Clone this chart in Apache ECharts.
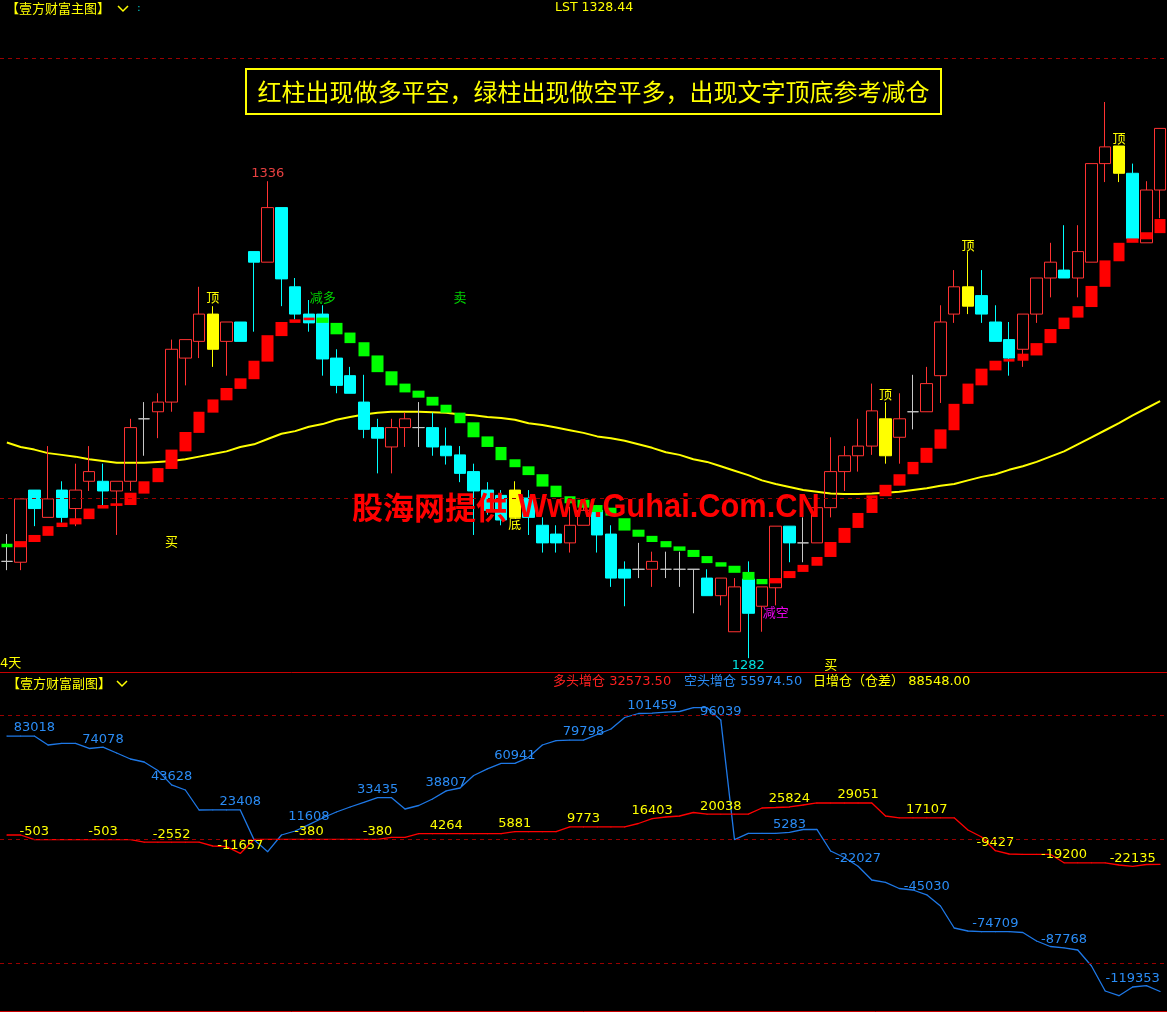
<!DOCTYPE html>
<html><head><meta charset="utf-8">
<script src="https://cdn.jsdelivr.net/npm/echarts@6/dist/echarts.min.js"></script>
<style>html,body{margin:0;padding:0;background:#000;}#c{width:1167px;height:1012px;}</style>
</head><body><div id="c"></div>
<script>
const categories = ['1','2','3','4','5','6','7','8','9','10','11','12','13','14','15','16','17','18','19','20',
'21','22','23','24','25','26','27','28','29','30','31','32','33','34','35','36','37','38','39','40',
'41','42','43','44','45','46','47','48','49','50','51','52','53','54','55','56','57','58','59','60',
'61','62','63','64','65','66','67','68','69','70','71','72','73','74','75','76','77','78','79','80',
'81','82','83','84','85'];

// [open, close, low, high]
const candles = [
[1292.8,1292.8,1291.8,1295.9],[1292.7,1299.9,1291.8,1299.9],[1300.9,1298.8,1296.8,1300.9],[1297.8,1299.9,1297.8,1305.9],
[1300.9,1297.8,1297.2,1301.9],[1298.8,1300.9,1296.8,1303.9],[1301.9,1303.0,1300.8,1305.9],[1301.9,1300.8,1299.2,1303.9],
[1300.8,1301.9,1295.8,1301.9],[1301.9,1308.0,1300.8,1309.0],[1309.0,1309.0,1304.8,1310.9],[1309.8,1310.9,1306.8,1311.9],
[1310.9,1316.9,1309.8,1318.0],[1315.9,1318.0,1312.8,1318.0],[1317.8,1320.9,1315.9,1324.0],[1320.9,1316.9,1314.9,1321.8],
[1317.8,1320.0,1313.9,1320.0],[1320.0,1317.8,1317.8,1320.0],[1328.0,1326.8,1318.9,1328.0],[1326.8,1333.0,1326.8,1336.0],
[1333.0,1324.9,1321.8,1333.0],[1324.0,1320.9,1320.3,1325.0],[1320.9,1319.9,1318.9,1322.5],[1320.9,1315.8,1313.9,1321.9],
[1315.9,1312.8,1311.9,1316.9],[1313.9,1311.9,1311.9,1314.9],[1310.9,1307.8,1306.8,1314.0],[1308.0,1306.8,1302.8,1309.0],
[1305.8,1308.0,1302.8,1309.0],[1308.0,1309.0,1305.8,1309.7],[1308.0,1308.0,1305.8,1310.9],[1308.0,1305.8,1304.8,1309.7],
[1305.9,1304.8,1303.8,1308.0],[1304.9,1302.8,1301.8,1305.9],[1303.0,1300.8,1295.8,1303.9],[1300.9,1298.6,1298.1,1301.8],
[1300.3,1297.5,1296.9,1300.9],[1297.8,1300.9,1297.8,1301.9],[1300.0,1297.8,1295.8,1300.9],[1296.9,1294.9,1293.8,1297.8],
[1295.9,1294.9,1293.8,1296.9],[1294.9,1296.9,1293.8,1299.0],[1296.9,1298.6,1296.9,1299.2],[1298.6,1295.8,1293.8,1299.2],
[1295.9,1290.9,1289.9,1296.9],[1291.9,1290.9,1287.7,1292.8],[1291.9,1291.9,1290.9,1294.9],[1291.9,1292.8,1289.9,1293.9],
[1291.9,1291.9,1290.9,1293.9],[1291.9,1291.9,1289.9,1293.9],[1291.9,1291.9,1286.9,1291.9],[1290.9,1288.9,1288.9,1291.9],
[1288.9,1290.9,1287.8,1290.9],[1284.8,1289.9,1284.8,1290.9],[1290.8,1286.9,1281.8,1292.8],[1287.7,1289.9,1284.8,1289.9],
[1289.8,1296.8,1287.8,1296.8],[1296.8,1294.9,1292.7,1296.8],[1294.9,1294.9,1292.7,1297.8],[1294.9,1298.9,1294.9,1298.9],
[1298.9,1303.0,1297.8,1306.9],[1303.0,1304.8,1300.8,1305.9],[1304.8,1305.9,1303.0,1309.0],[1305.9,1309.9,1304.9,1313.0],
[1309.0,1304.8,1303.9,1310.9],[1306.9,1309.0,1303.9,1311.9],[1309.8,1309.8,1307.8,1314.0],[1309.8,1313.0,1309.8,1314.9],
[1313.9,1320.0,1310.8,1321.9],[1320.9,1324.0,1319.9,1325.9],[1324.0,1321.8,1320.9,1328.0],[1323.0,1320.9,1319.9,1325.9],
[1320.0,1317.8,1317.8,1321.9],[1318.0,1315.9,1313.9,1320.0],[1316.9,1320.9,1314.9,1320.9],[1320.9,1325.0,1319.9,1325.0],
[1325.0,1326.8,1322.8,1329.0],[1325.9,1325.0,1325.0,1331.0],[1325.0,1328.0,1322.8,1331.0],[1326.8,1338.0,1326.8,1338.0],
[1338.0,1339.9,1335.9,1345.0],[1340.0,1336.9,1335.9,1340.0],[1336.9,1329.5,1329.5,1338.0],[1329.0,1335.0,1329.0,1336.0],
[1335.0,1342.0,1331.8,1342.0]
];
const yellowIdx = [15,37,64,70,81];
const whiteIdx = [0,10,30,46,48,49,50,58,66];

const stepTop = [1294.8,1295.1,1295.8,1296.8,1297.2,1297.7,1298.8,1299.2,1299.4,1300.6,1301.9,1303.4,1305.5,1307.5,1309.8,1311.2,1312.5,1313.6,1315.6,1318.5,
1320.0,1320.3,1320.5,1320.5,1319.9,1318.8,1317.7,1316.2,1314.4,1313.0,1312.2,1311.5,1310.6,1309.7,1308.6,1307.0,1305.8,1304.4,1303.6,1302.7,
1301.4,1300.2,1299.8,1299.2,1298.9,1297.7,1296.4,1295.7,1295.1,1294.5,1294.1,1293.4,1292.7,1292.3,1291.6,1290.8,1290.9,1291.7,1292.4,1293.3,
1295.0,1296.6,1298.3,1300.3,1301.5,1302.7,1304.1,1305.7,1307.8,1310.7,1313.0,1314.7,1315.6,1315.8,1316.4,1317.6,1319.2,1320.5,1321.8,1324.1,
1327.0,1329.0,1329.5,1330.2,1331.7];
const stepBottom = [1294.4,1294.4,1295.0,1295.7,1296.7,1297.0,1297.6,1298.8,1299.1,1299.2,1300.5,1301.8,1303.3,1305.3,1307.4,1309.7,1311.1,1312.4,1313.5,1315.5,
1318.4,1319.9,1320.2,1319.9,1318.6,1317.6,1316.1,1314.3,1312.8,1312.0,1311.4,1310.5,1309.7,1308.5,1306.9,1305.8,1304.3,1303.5,1302.6,1301.3,
1300.1,1299.4,1298.9,1298.4,1298.0,1296.3,1295.6,1295.0,1294.4,1294.0,1293.3,1292.6,1292.2,1291.5,1290.7,1290.2,1290.3,1290.9,1291.6,1292.3,
1293.3,1294.9,1296.6,1298.3,1300.2,1301.4,1302.7,1304.0,1305.6,1307.7,1310.7,1312.8,1314.5,1315.5,1315.6,1316.2,1317.6,1319.2,1320.5,1321.7,
1324.0,1326.9,1329.0,1329.4,1330.1];
const stepDir = [-1,1,1,1,1,1,1,1,1,1,1,1,1,1,1,1,1,1,1,1,1,1,1,
-1,-1,-1,-1,-1,-1,-1,-1,-1,-1,-1,-1,-1,-1,-1,-1,-1,-1,-1,-1,-1,-1,-1,-1,-1,-1,-1,-1,-1,-1,-1,-1,-1,
1,1,1,1,1,1,1,1,1,1,1,1,1,1,1,1,1,1,1,1,1,1,1,1,1,1,1,1,1];

const ma = [1306.3,1305.8,1305.5,1305.1,1304.9,1304.7,1304.4,1304.2,1304.0,1304.0,
1304.0,1304.1,1304.2,1304.4,1304.7,1305.0,1305.3,1305.8,1306.1,1306.7,
1307.3,1307.6,1308.1,1308.4,1308.9,1309.2,1309.5,1309.7,1309.8,1309.8,
1309.8,1309.75,1309.7,1309.5,1309.4,1309.2,1309.1,1308.9,1308.5,1308.3,
1308.0,1307.7,1307.4,1307.0,1306.8,1306.5,1306.1,1305.7,1305.2,1304.9,
1304.4,1304.1,1303.6,1303.1,1302.6,1302.0,1301.6,1301.25,1300.9,1300.7,
1300.5,1300.45,1300.45,1300.5,1300.6,1300.7,1300.9,1301.1,1301.4,1301.6,
1302.0,1302.4,1302.7,1303.2,1303.6,1304.1,1304.7,1305.3,1306.1,1306.9,
1307.7,1308.5,1309.4,1310.2,1311.0];

const kongTou = [83000,83000,83018,75806,77177,77177,73000,74078,69355,64516,
62097,55242,43628,39516,23387,23408,23408,23408,-500,-10242,
3226,6452,11608,16935,21774,25806,29597,33435,33435,24194,
27016,32258,38807,41129,51210,56613,60941,60941,65887,75806,
79274,79798,79798,84274,88710,97984,101210,101459,102258,102823,
105887,105887,96039,-500,4597,4597,4597,5283,7661,7823,
-9677,-14919,-22027,-33065,-34919,-39919,-41129,-45030,-54032,-71774,
-74193,-74709,-74709,-74709,-75403,-82258,-86694,-87768,-89516,-102419,
-122581,-126371,-119353,-118306,-122984];
const duoTou = [3226,3226,-503,-503,-503,-503,-503,-503,-503,-503,
-2552,-2552,-2552,-2552,-2552,-5645,-6210,-11657,-380,-380,
-380,-380,-380,-380,-380,-380,-380,-380,1371,1371,
4264,4264,4264,4264,4264,4264,4264,5881,5881,5881,
5881,9773,9773,9773,9773,9773,12500,16403,17742,18548,
21371,20038,20038,20038,20038,25000,25403,25824,27419,29051,
29051,29051,29051,29051,18548,17107,17107,17107,17107,17107,
7258,1613,-9427,-12097,-12339,-12339,-12339,-19200,-19200,-19200,
-19200,-20968,-22135,-20565,-20403];
const labelIdx = [2,7,12,17,22,27,32,37,42,47,52,57,62,67,72,77,82];

// [index, price, text, color]
const notes = [
[15,1322.6,'顶','#ffff00'],[64,1311.6,'顶','#ffff00'],[70,1328.6,'顶','#ffff00'],[81,1340.7,'顶','#ffff00'],
[19,1336.9,'1336','#e84040'],[23,1322.7,'减多','#00d400'],[33,1322.7,'卖','#00d400'],
[12,1294.9,'买','#ffff00'],[37,1297.0,'底','#ffff00'],[56,1286.9,'减空','#ee00ee'],
[54,1280.9,'1282','#00e0e0'],[60,1281.0,'买','#ffff00']
];

const Y='#ffff00', W='#c8c8c8', UP='#ff3232', DN='#00ffff';
const FONT_NUM = 'DejaVu Sans, Noto Sans CJK SC';
const FONT_CJK = 'Noto Sans CJK SC';

const candleData = candles.map((v,i)=>{
  if (yellowIdx.includes(i)) return {value:v, itemStyle:{color:Y,color0:Y,borderColor:Y,borderColor0:Y}};
  if (whiteIdx.includes(i)) return {value:v, itemStyle:{color:W,color0:W,borderColor:W,borderColor0:W}};
  return v;
});
const stepData = stepTop.map((t,i)=>{ const b = stepBottom[i]; return stepDir[i] > 0 ? [b,t,b,t] : [t,b,b,t]; });
const mkLabelled = (arr)=>arr.map((v,i)=> labelIdx.includes(i) ? {value:v, label:{show:true}} : v);

const dashed = {color:'#990000', type:[4,4], width:1};
const chart = echarts.init(document.getElementById('c'));
chart.setOption({
  backgroundColor:'#000',
  animation:false,
  grid:[{left:0,right:0,top:58,height:614},{left:0,right:0,top:673,height:338}],
  xAxis:[0,1].map(g=>({type:'category',gridIndex:g,data:categories,boundaryGap:true,
    axisLabel:{show:false},axisTick:{show:false},splitLine:{show:false},
    axisLine:{show:true,onZero:false,lineStyle:{color:'#c80000',width:1}}})),
  yAxis:[
    {type:'value',gridIndex:0,min:1280.2273,max:1350,show:false},
    {type:'value',gridIndex:1,min:-138709.68,max:133870.97,show:false}
  ],
  series:[
    {type:'line',name:'MA',xAxisIndex:0,yAxisIndex:0,data:ma,symbol:'none',z:1,
      lineStyle:{color:Y,width:2},itemStyle:{color:Y},
      markLine:{silent:true,symbol:['none','none'],label:{show:false},lineStyle:dashed,
        data:[{yAxis:1350},{yAxis:1300}]}},
    {type:'candlestick',name:'K',xAxisIndex:0,yAxisIndex:0,data:candleData,barWidth:12,z:2,
      itemStyle:{color:'rgba(0,0,0,0)',color0:DN,borderColor:UP,borderColor0:DN,borderWidth:1},
      markPoint:{symbol:'rect',symbolSize:1,silent:true,itemStyle:{color:'rgba(0,0,0,0)'},
        label:{show:true,position:'inside',formatter:'{b}',fontSize:13,fontFamily:FONT_NUM},
        data:notes.map(n=>({name:n[2],coord:[n[0],n[1]],label:{color:n[3]}}))}},
    {type:'candlestick',name:'step',xAxisIndex:0,yAxisIndex:0,data:stepData,barWidth:12,z:3,
      itemStyle:{color:'#ff0000',color0:'#00ff00',borderColor:'#ff0000',borderColor0:'#00ff00',borderWidth:0}},
    {type:'line',name:'空头',xAxisIndex:1,yAxisIndex:1,data:mkLabelled(kongTou),
      symbol:'circle',symbolSize:1,showSymbol:true,showAllSymbol:true,
      lineStyle:{color:'#1e78e6',width:1.3},itemStyle:{color:'#1e78e6'},
      label:{show:false,position:'top',distance:1,color:'#2a8cf5',fontSize:13,fontFamily:FONT_NUM,formatter:p=>String(p.value)},
      markLine:{silent:true,symbol:['none','none'],label:{show:false},lineStyle:dashed,
        data:[{yAxis:100000},{yAxis:0},{yAxis:-100000}]}},
    {type:'line',name:'多头',xAxisIndex:1,yAxisIndex:1,data:mkLabelled(duoTou),
      symbol:'circle',symbolSize:1,showSymbol:true,showAllSymbol:true,
      lineStyle:{color:'#ff0000',width:1.3},itemStyle:{color:'#ff0000'},
      label:{show:false,position:'top',distance:1,color:Y,fontSize:13,fontFamily:FONT_NUM,formatter:p=>String(p.value)}}
  ],
  graphic:[
    {type:'text',x:6,y:8,style:{text:'【壹方财富主图】',fill:Y,font:'13px '+FONT_CJK,verticalAlign:'middle'}},
    {type:'polyline',shape:{points:[[118,6],[123,11],[128,6]]},style:{stroke:Y,lineWidth:1.5,fill:null}},
    {type:'text',x:137,y:8,style:{text:':',fill:'#00c8c8',font:'11px DejaVu Sans',verticalAlign:'middle'}},
    {type:'text',x:555,y:8,style:{text:'LST 1328.44',fill:Y,font:'12.5px DejaVu Sans',verticalAlign:'middle'}},
    {type:'rect',shape:{x:246,y:69,width:695,height:45},style:{stroke:Y,lineWidth:2,fill:null}},
    {type:'text',x:593.5,y:92,style:{text:'红柱出现做多平空，绿柱出现做空平多，出现文字顶底参考减仓',fill:Y,font:'24px '+FONT_CJK,align:'center',verticalAlign:'middle'}},
    {type:'text',x:352,y:507,z:100,style:{text:'股海网提供',fill:'#ff0000',font:'bold 31px '+FONT_CJK,verticalAlign:'middle'}},
    {type:'text',x:518,y:508,z:100,scaleX:0.906,style:{text:'Www.Guhai.Com.CN',fill:'#ff0000',font:'bold 34px Liberation Sans',verticalAlign:'middle'}},
    {type:'text',x:0,y:664,style:{text:'4天',fill:Y,font:'13px '+FONT_NUM,verticalAlign:'middle'}},
    {type:'text',x:7,y:683,style:{text:'【壹方财富副图】',fill:Y,font:'13px '+FONT_CJK,verticalAlign:'middle'}},
    {type:'polyline',shape:{points:[[117,681],[122,686],[127,681]]},style:{stroke:Y,lineWidth:1.5,fill:null}},
    {type:'text',x:553,y:682,style:{text:'多头增仓 32573.50',fill:'#ff2020',font:'13px '+FONT_NUM,verticalAlign:'middle'}},
    {type:'text',x:684,y:682,style:{text:'空头增仓 55974.50',fill:'#2a8cf5',font:'13px '+FONT_NUM,verticalAlign:'middle'}},
    {type:'text',x:813,y:682,style:{text:'日增仓（仓差） 88548.00',fill:Y,font:'13px '+FONT_NUM,verticalAlign:'middle'}}
  ]
});
</script></body></html>
